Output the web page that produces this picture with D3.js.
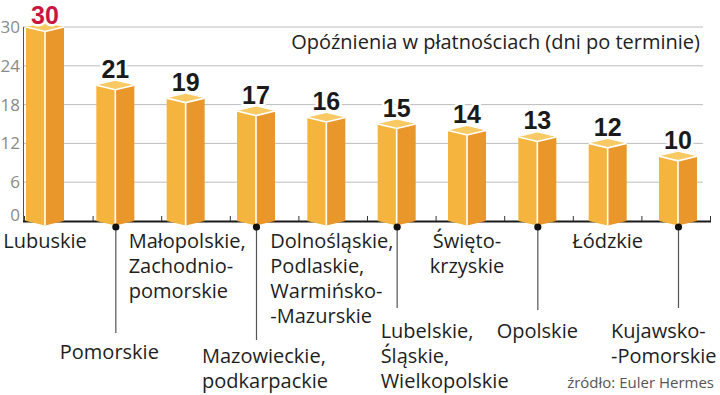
<!DOCTYPE html>
<html>
<head>
<meta charset="utf-8">
<script src="https://cdn.jsdelivr.net/npm/d3@7"></script>
<style>
  body { margin: 0; background: #fff; }
  svg { display: block; font-family: "Open Sans", "Noto Sans", sans-serif; }
</style>
</head>
<body>
<svg id="chart" width="720" height="395"></svg>
<script>
/* Data */
const regions = [
    ['Lubuskie'],
    ['Pomorskie'],
    ['Małopolskie,', 'Zachodnio-', 'pomorskie'],
    ['Mazowieckie,', 'podkarpackie'],
    ['Dolnośląskie,', 'Podlaskie,', 'Warmińsko-', '-Mazurskie'],
    ['Lubelskie,', 'Śląskie,', 'Wielkopolskie'],
    ['Święto-', 'krzyskie'],
    ['Opolskie'],
    ['Łódzkie'],
    ['Kujawsko-', '-Pomorskie']
];
const delays = [30, 21, 19, 17, 16, 15, 14, 13, 12, 10];
const yTicks = [0, 6, 12, 18, 24, 30];
const title = 'Opóźnienia w płatnościach (dni po terminie)';
const source = 'źródło: Euler Hermes';

const keys = regions.map(d => d[0]);
const rows = keys.map((k, i) => ({ key: k, lines: regions[i], value: delays[i], i: i }));

/* Label layout: top row under bar, or bottom row with a leader line */
const labelLayout = [
    { low: false, anchor: 'middle', dx: 0 },
    { low: true, anchor: 'middle', dx: -6, lineEnd: 333, base: 359 },
    { low: false, anchor: 'start', dx: -57 },
    { low: true, anchor: 'start', dx: -54, lineEnd: 340, base: 363 },
    { low: false, anchor: 'start', dx: -56 },
    { low: true, anchor: 'start', dx: -16, lineEnd: 308, base: 338 },
    { low: false, anchor: 'middle', dx: 0 },
    { low: true, anchor: 'middle', dx: 0, lineEnd: 310, base: 338 },
    { low: false, anchor: 'middle', dx: 0 },
    { low: true, anchor: 'start', dx: -67, lineEnd: 308, base: 338 }
];

const svg = d3.select('#chart');

/* Scales */
const x = d3.scalePoint().domain(keys).range([45, 678]);
const band = d3.scaleBand().domain(keys).range([24, 710]);
const y = d3.scaleLinear().domain([0, 30]).range([221, 27]);

const halfW = 19;
const depth = 4.5;

/* Grid lines */
svg.append('g')
    .selectAll('line')
    .data(yTicks.filter(d => d > 0))
    .join('line')
    .attr('x1', 23).attr('x2', 703)
    .attr('y1', d => y(d)).attr('y2', d => y(d))
    .attr('stroke', '#bdbdbd').attr('stroke-width', 1);

/* Y tick labels */
svg.append('g')
    .selectAll('text')
    .data(yTicks)
    .join('text')
    .attr('x', 20)
    .attr('y', d => y(d) + (d === 0 ? -6 : 0))
    .attr('dy', '0.35em')
    .attr('text-anchor', 'end')
    .style('font-size', '17px')
    .style('fill', '#8a8a8a')
    .text(d => d);

/* Left axis line */
svg.append('line')
    .attr('x1', 23.5).attr('x2', 23.5)
    .attr('y1', y(30)).attr('y2', y(0) + 1)
    .attr('stroke', '#555').attr('stroke-width', 1);

/* Baseline with band ticks */
svg.append('line')
    .attr('x1', 23).attr('x2', 711)
    .attr('y1', y(0) + 0.5).attr('y2', y(0) + 0.5)
    .attr('stroke', '#1a1a1a').attr('stroke-width', 2);

const bounds = keys.map(k => band(k)).concat([band.range()[1]]);
svg.append('g')
    .selectAll('line')
    .data(bounds)
    .join('line')
    .attr('x1', d => d + 0.5).attr('x2', d => d + 0.5)
    .attr('y1', y(0) - 5).attr('y2', y(0))
    .attr('stroke', '#333').attr('stroke-width', 1);

/* 3D bars */
const bars = svg.append('g')
    .selectAll('g')
    .data(rows)
    .join('g');

const pt = p => p.map(q => q.join(',')).join(' ');

bars.append('polygon')
    .attr('points', d => {
        const cx = x(d.key), t = y(d.value), b = y(0);
        return pt([[cx - halfW, t], [cx, t + depth], [cx, b + depth], [cx - halfW, b]]);
    })
    .attr('fill', '#f4b43e');

bars.append('polygon')
    .attr('points', d => {
        const cx = x(d.key), t = y(d.value), b = y(0);
        return pt([[cx, t + depth], [cx + halfW, t], [cx + halfW, b], [cx, b + depth]]);
    })
    .attr('fill', '#e9962a');

bars.append('polygon')
    .attr('points', d => {
        const cx = x(d.key), t = y(d.value);
        return pt([[cx - halfW, t], [cx, t - depth], [cx + halfW, t], [cx, t + depth]]);
    })
    .attr('fill', '#f9ca63');

/* White edges */
bars.append('path')
    .attr('d', d => {
        const cx = x(d.key), t = y(d.value), b = y(0);
        return `M${cx - halfW},${t}L${cx},${t + depth}L${cx + halfW},${t}M${cx},${t + depth}L${cx},${b + depth}`;
    })
    .attr('fill', 'none')
    .attr('stroke', '#fff')
    .attr('stroke-width', 1.6);

/* Value labels (kept inside the top edge) */
svg.append('g')
    .selectAll('text')
    .data(rows)
    .join('text')
    .attr('x', d => x(d.key))
    .attr('y', d => Math.max(y(d.value) - depth - 3, 24))
    .attr('text-anchor', 'middle')
    .style('font-family', '"Liberation Sans", Arial, sans-serif')
    .style('font-size', '25px')
    .style('font-weight', 'bold')
    .style('fill', d => d.i === 0 ? '#c8163f' : '#1a1a1a')
    .style('paint-order', 'stroke')
    .style('stroke', '#fff')
    .style('stroke-width', '5px')
    .style('stroke-linejoin', 'round')
    .text(d => d.value);

/* Leader lines and dots */
const lowRows = rows.filter(d => labelLayout[d.i].low);
svg.append('g')
    .selectAll('line')
    .data(lowRows)
    .join('line')
    .attr('x1', d => x(d.key) + 0.5).attr('x2', d => x(d.key) + 0.5)
    .attr('y1', y(0) + 6).attr('y2', d => labelLayout[d.i].lineEnd)
    .attr('stroke', '#555').attr('stroke-width', 1.2);

svg.append('g')
    .selectAll('circle')
    .data(lowRows)
    .join('circle')
    .attr('cx', d => x(d.key) + 0.5)
    .attr('cy', y(0) + 6)
    .attr('r', 3.6)
    .attr('fill', '#111');

/* Category labels */
const labels = svg.append('g')
    .selectAll('text')
    .data(rows)
    .join('text')
    .attr('text-anchor', d => labelLayout[d.i].anchor)
    .style('font-size', '20px')
    .style('fill', '#1e1e1e');

labels.selectAll('tspan')
    .data(d => d.lines.map((line, j) => ({ line: line, j: j, d: d })))
    .join('tspan')
    .attr('x', t => x(t.d.key) + labelLayout[t.d.i].dx)
    .attr('y', t => (labelLayout[t.d.i].low ? labelLayout[t.d.i].base : 248) + t.j * 25)
    .text(t => t.line);

/* Title */
svg.append('text')
    .attr('x', 700)
    .attr('y', 49)
    .attr('text-anchor', 'end')
    .style('font-size', '20px')
    .style('fill', '#222')
    .text(title);

/* Source */
svg.append('text')
    .attr('x', 714)
    .attr('y', 388)
    .attr('text-anchor', 'end')
    .style('font-size', '15px')
    .style('fill', '#555')
    .text(source);
</script>
</body>
</html>
